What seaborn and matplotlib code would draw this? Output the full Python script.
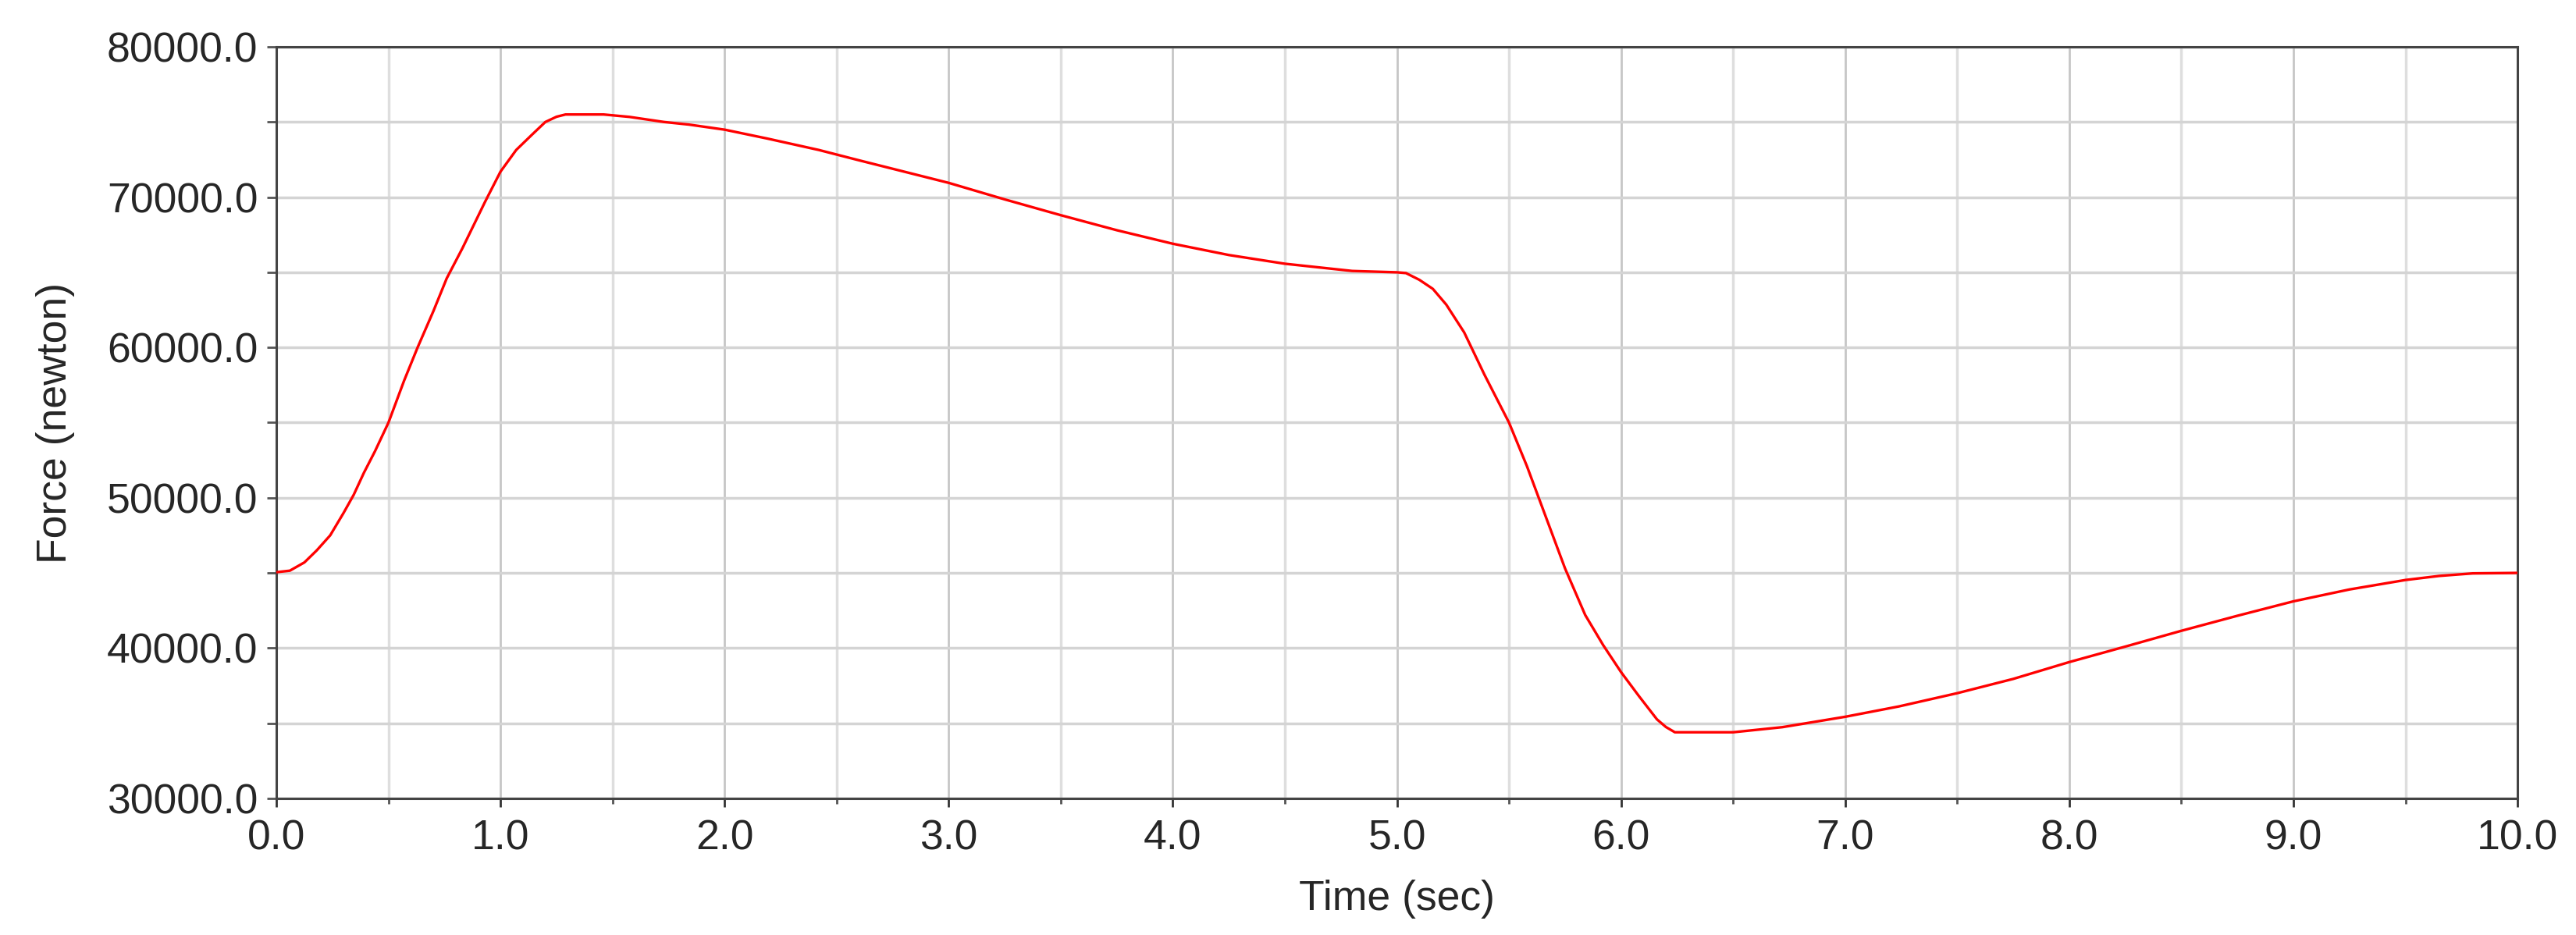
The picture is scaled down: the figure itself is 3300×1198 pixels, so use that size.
import matplotlib
matplotlib.use("Agg")
import matplotlib.pyplot as plt
import seaborn as sns
from matplotlib.ticker import MultipleLocator, FormatStrFormatter

# values
time_sec = [0.0, 0.06, 0.125, 0.18, 0.24, 0.3, 0.345, 0.39, 0.44, 0.5, 0.57, 0.63,
            0.7, 0.76, 0.83, 0.93, 1.0, 1.07, 1.14, 1.2, 1.25, 1.29, 1.46, 1.575,
            1.73, 1.84, 2.0, 2.19, 2.42, 2.6, 2.8, 3.0, 3.25, 3.5, 3.75, 4.0,
            4.25, 4.5, 4.8, 5.0, 5.04, 5.1, 5.16, 5.22, 5.3, 5.39, 5.5, 5.58,
            5.66, 5.75, 5.84, 5.92, 6.0, 6.08, 6.16, 6.2, 6.24, 6.5, 6.72,
            7.0, 7.24, 7.5, 7.75, 8.0, 8.25, 8.5, 8.75, 9.0, 9.25, 9.5, 9.65,
            9.8, 10.0]
force_n = [45050, 45150, 45700, 46500, 47500, 49000, 50200, 51650, 53100, 55000, 57800, 60000,
           62400, 64600, 66600, 69660, 71700, 73140, 74150, 75000, 75350, 75500, 75500, 75340,
           75000, 74830, 74490, 73900, 73140, 72450, 71700, 70950, 69850, 68800, 67800, 66900,
           66150, 65570, 65090, 65000, 64950, 64500, 63900, 62850, 61000, 58200, 55000, 52100,
           48900, 45300, 42200, 40200, 38400, 36800, 35260, 34750, 34400, 34400, 34740,
           35430, 36120, 37000, 37950, 39070, 40100, 41150, 42150, 43110, 43900, 44530, 44800,
           44970, 45000]

sns.set_theme(style="white")
plt.rcParams["font.family"] = ["Liberation Sans", "DejaVu Sans"]

fig = plt.figure(figsize=(33, 11.98), dpi=100)
ax = fig.add_axes([0.1073, 0.1461, 0.8700, 0.8038])

sns.lineplot(x=time_sec, y=force_n, color="#ff0000", linewidth=2.4, ax=ax, zorder=3)

ax.set_xlim(0, 10)
ax.set_ylim(30000, 80000)
ax.xaxis.set_major_locator(MultipleLocator(1.0))
ax.xaxis.set_minor_locator(MultipleLocator(0.5))
ax.yaxis.set_major_locator(MultipleLocator(10000))
ax.yaxis.set_minor_locator(MultipleLocator(5000))
ax.xaxis.set_major_formatter(FormatStrFormatter("%.1f"))
ax.yaxis.set_major_formatter(FormatStrFormatter("%.1f"))

ax.grid(True, which="major", axis="x", color="#c6c6c6", linewidth=2.0, zorder=0)
ax.grid(True, which="minor", axis="x", color="#dedede", linewidth=2.5, zorder=0)
ax.grid(True, which="both", axis="y", color="#d4d4d4", linewidth=2.5, zorder=0)
ax.set_axisbelow(True)

for side in ["left", "bottom", "top", "right"]:
    ax.spines[side].set_visible(True)
    ax.spines[side].set_color("#444444")
    ax.spines[side].set_linewidth(2.2)

ax.tick_params(axis="x", which="major", direction="out", length=8, width=2,
               color="#333333", labelsize=38.5, pad=11, bottom=True)
ax.tick_params(axis="x", which="minor", direction="out", length=5, width=2,
               color="#555555", bottom=True)
ax.tick_params(axis="y", which="both", direction="out", length=9, width=2,
               color="#555555", labelsize=38.5, pad=8, left=True)

ax.set_xlabel("Time (sec)", fontsize=38.5)
ax.set_ylabel("Force (newton)", fontsize=38.5)
ax.xaxis.set_label_coords(0.5, -0.108)
ax.xaxis.label.set_va("top")
ax.yaxis.set_label_coords(-0.090, 0.5)

fig.savefig("out.png", dpi=100, facecolor="white")
